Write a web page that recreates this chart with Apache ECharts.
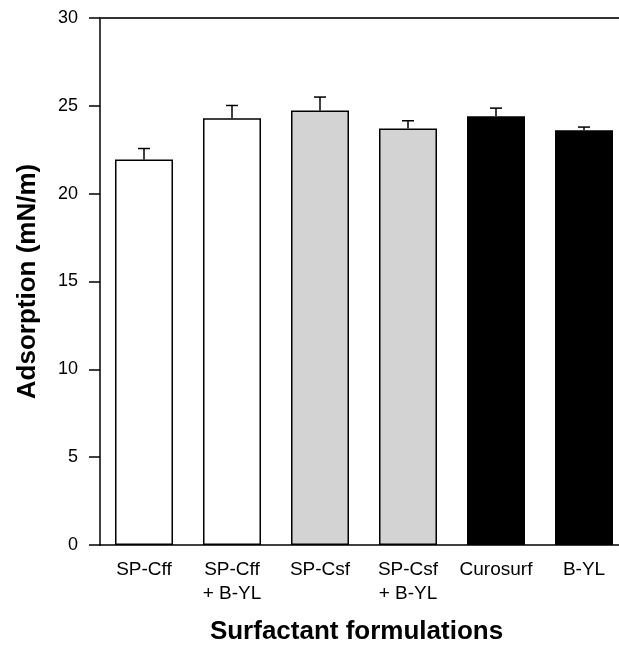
<!DOCTYPE html>
<html><head><meta charset="utf-8">
<script src="https://cdn.jsdelivr.net/npm/echarts@6/dist/echarts.min.js"></script>
<style>html,body{margin:0;padding:0;background:#fff}#c{width:619px;height:648px}</style>
</head><body><div id="c"></div>
<script>
const categories = ['SP-Cff', 'SP-Cff\n+ B-YL', 'SP-Csf', 'SP-Csf\n+ B-YL', 'Curosurf', 'B-YL'];
const values = [21.94, 24.30, 24.73, 23.71, 24.41, 23.61];
const errors = [0.63, 0.72, 0.77, 0.44, 0.46, 0.18];
const fills = ['#ffffff', '#ffffff', '#d3d3d3', '#d3d3d3', '#000000', '#000000'];
const yTicks = [0, 5, 10, 15, 20, 25, 30];

const chart = echarts.init(document.getElementById('c'), null, {renderer: 'canvas'});
const font = 'Liberation Sans, Arial, sans-serif';
chart.setOption({
  animation: false,
  grid: {left: 100, width: 528, top: 18, height: 527, outerBoundsMode: 'none', containLabel: false},
  xAxis: [{
    type: 'category', data: categories,
    axisLine: {lineStyle: {color: '#000', width: 1.5}},
    axisTick: {show: false},
    axisLabel: {color: '#000', fontSize: 19, fontFamily: font, margin: 13, lineHeight: 24, interval: 0},
    name: 'Surfactant formulations', nameLocation: 'middle', nameGap: 74, nameMoveOverlap: false,
    nameTextStyle: {color: '#000', fontSize: 26, fontWeight: 'bold', fontFamily: font, padding: [0, 15, 0, 0]}
  }, {
    type: 'category', data: categories, position: 'top',
    axisLine: {show: true, lineStyle: {color: '#333', width: 2}},
    axisTick: {show: false}, axisLabel: {show: false}
  }],
  yAxis: {
    type: 'value', min: yTicks[0], max: yTicks[yTicks.length - 1], interval: 5,
    axisLine: {show: true, lineStyle: {color: '#000', width: 1.5}},
    axisTick: {show: true, length: 11, lineStyle: {color: '#000', width: 1.5}},
    axisLabel: {color: '#000', fontSize: 18, fontFamily: font, margin: 22},
    splitLine: {show: false},
    name: 'Adsorption (mN/m)', nameLocation: 'middle', nameGap: 59, nameMoveOverlap: false,
    nameTextStyle: {color: '#000', fontSize: 26, fontWeight: 'bold', fontFamily: font}
  },
  series: [{
    type: 'bar', barWidth: 58,
    data: values.map((v, i) => ({value: v, itemStyle: {color: fills[i], borderColor: '#000', borderWidth: 1.5}}))
  }, {
    type: 'custom', z: 5,
    data: values.map((v, i) => [i, v, v + errors[i]]),
    renderItem: function (params, api) {
      const lo = api.coord([api.value(0), api.value(1)]);
      const hi = api.coord([api.value(0), api.value(2)]);
      const hw = 6;
      const st = {stroke: '#000', lineWidth: 1.5};
      return {type: 'group', children: [
        {type: 'line', shape: {x1: lo[0], y1: lo[1], x2: hi[0], y2: hi[1]}, style: st},
        {type: 'line', shape: {x1: hi[0] - hw, y1: hi[1], x2: hi[0] + hw, y2: hi[1]}, style: st}
      ]};
    }
  }]
});
</script></body></html>
